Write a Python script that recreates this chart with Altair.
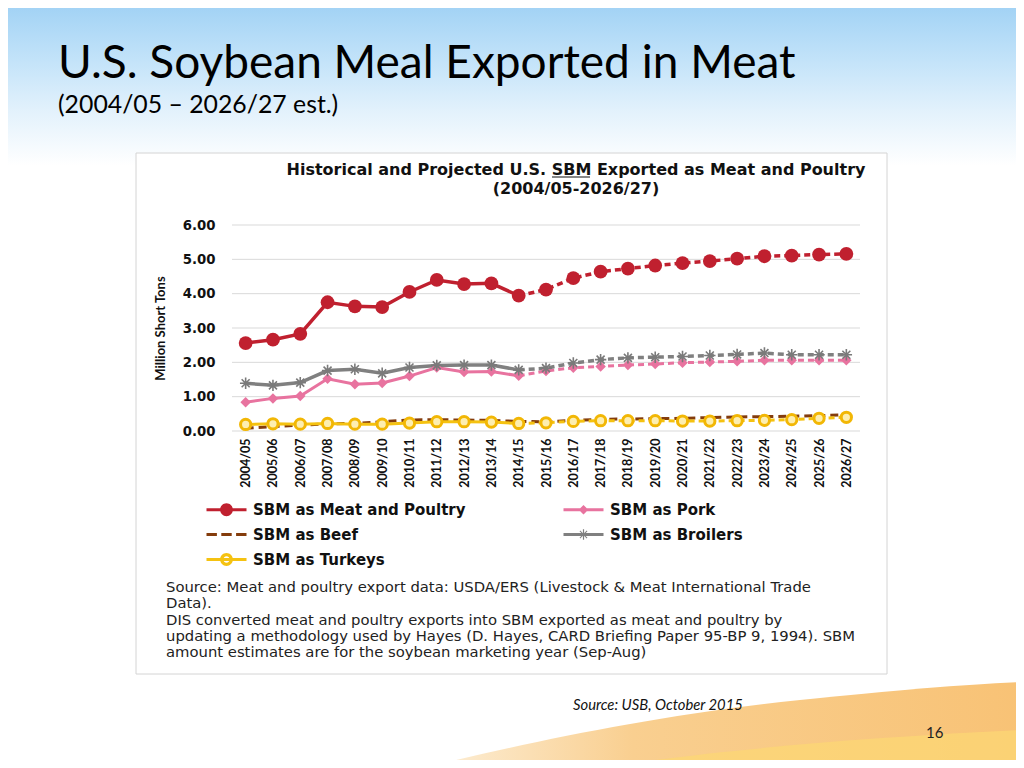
import altair as alt
import pandas as pd

# ---------------- data ----------------
years = ["2004/05", "2005/06", "2006/07", "2007/08", "2008/09", "2009/10",
         "2010/11", "2011/12", "2012/13", "2013/14", "2014/15", "2015/16",
         "2016/17", "2017/18", "2018/19", "2019/20", "2020/21", "2021/22",
         "2022/23", "2023/24", "2024/25", "2025/26", "2026/27"]
last_historical = "2014/15"

meat_poultry = [2.56, 2.66, 2.83, 3.75, 3.63, 3.61, 4.05, 4.40, 4.28, 4.30, 3.94, 4.12,
                4.45, 4.64, 4.73, 4.82, 4.89, 4.95, 5.02, 5.09, 5.11, 5.14, 5.16]
pork = [0.84, 0.95, 1.02, 1.52, 1.36, 1.40, 1.60, 1.85, 1.72, 1.73, 1.61, 1.75,
        1.84, 1.88, 1.92, 1.95, 1.99, 2.01, 2.03, 2.06, 2.06, 2.06, 2.06]
beef = [0.08, 0.13, 0.17, 0.21, 0.22, 0.27, 0.32, 0.33, 0.32, 0.31, 0.28, 0.27,
        0.31, 0.34, 0.35, 0.36, 0.37, 0.39, 0.41, 0.42, 0.43, 0.45, 0.47]
broilers = [1.39, 1.33, 1.41, 1.76, 1.80, 1.68, 1.85, 1.91, 1.92, 1.92, 1.78, 1.83,
            1.98, 2.08, 2.13, 2.15, 2.17, 2.20, 2.23, 2.27, 2.22, 2.22, 2.22]
turkeys = [0.19, 0.21, 0.20, 0.22, 0.20, 0.20, 0.23, 0.27, 0.27, 0.26, 0.22, 0.24,
           0.28, 0.30, 0.30, 0.30, 0.29, 0.29, 0.30, 0.31, 0.33, 0.37, 0.40]

series_names = ["SBM as Meat and Poultry", "SBM as Pork", "SBM as Beef",
                "SBM as Broilers", "SBM as Turkeys"]
series_values = [meat_poultry, pork, beef, broilers, turkeys]
# legend fills column by column: Meat | Pork / Beef | Broilers / Turkeys
legend_order = ["SBM as Meat and Poultry", "SBM as Beef", "SBM as Turkeys",
                "SBM as Pork", "SBM as Broilers"]
y_ticks = [0, 1, 2, 3, 4, 5, 6]

slide_title = "U.S. Soybean Meal Exported in Meat"
slide_subtitle = "(2004/05 \u2013 2026/27 est.)"
chart_title = ["Historical and Projected U.S. SBM Exported as Meat and Poultry",
               "(2004/05-2026/27)"]
source_note = ["Source: Meat and poultry export data: USDA/ERS (Livestock & Meat International Trade",
               "Data).",
               "DIS converted meat and poultry exports into SBM exported as meat and poultry by",
               "updating a methodology used by Hayes (D. Hayes, CARD Briefing Paper 95-BP 9, 1994). SBM",
               "amount estimates are for the soybean marketing year (Sep-Aug)"]
slide_source = "Source: USB, October 2015"
page_number = "16"

# ---------------- styles ----------------
color_of = {"SBM as Meat and Poultry": "#c0202f", "SBM as Pork": "#e8739f",
            "SBM as Beef": "#843c0c", "SBM as Broilers": "#808080",
            "SBM as Turkeys": "#f5c211"}
hist_idx = years.index(last_historical)

rows = []
for name, vals in zip(series_names, series_values):
    for i, (yr, v) in enumerate(zip(years, vals)):
        rows.append({"year": yr, "series": name, "value": v, "idx": i})
df = pd.DataFrame(rows)
one = pd.DataFrame({"k": [0]})

W, H = 628, 206
PAD = {"left": 224, "top": 217, "right": 1008 - 224 - W, "bottom": 752 - 217 - H}

x_enc = alt.X("year:O", sort=years, scale=alt.Scale(domain=years),
              axis=alt.Axis(title=None, labelAngle=270, labelFont="Lato",
                            labelFontWeight="bold", labelFontSize=12.5, labelColor="#111",
                            labelPadding=7, domain=False, ticks=False, grid=False,
                            labelOverlap=False, zindex=1))
y_axis = alt.Axis(title="Million Short Tons", values=y_ticks, format=".2f",
                  labelFont="DejaVu Sans", labelFontWeight="bold", labelFontSize=13.3,
                  labelColor="#111", labelPadding=17, domain=False, ticks=False, grid=False,
                  titleFont="Lato", titleFontWeight="bold", titleFontSize=13,
                  titleColor="#111", titleAngle=270, titleX=-72, titleY=H / 2,
                  titleAlign="center", titleBaseline="middle", zindex=1)
y_scale = alt.Scale(domain=[0, 6])
y_enc = alt.Y("value:Q", scale=y_scale, axis=y_axis)

layers = []

# slide background (sky gradient)
sky = alt.LinearGradient(gradient="linear", x1=0, x2=0, y1=0, y2=1, stops=[
    alt.GradientStop(offset=0, color="#a3d3f5"),
    alt.GradientStop(offset=0.07, color="#c3e3f9"),
    alt.GradientStop(offset=0.14, color="#e4f2fc"),
    alt.GradientStop(offset=0.21, color="#ffffff"),
    alt.GradientStop(offset=1, color="#ffffff")])
layers.append(alt.Chart(one).mark_rect(fill=sky).encode(
    x=alt.value(-PAD["left"]), x2=alt.value(W + PAD["right"]),
    y=alt.value(-PAD["top"]), y2=alt.value(H + PAD["bottom"])))

# bottom swoosh decoration
swoosh_path = "M 190 543 C 300 517, 418 491, 568 475 C 668 465, 738 459, 792 457 L 792 543 Z"
swoosh_fill = alt.LinearGradient(gradient="linear", x1=0, x2=1, y1=0, y2=0, stops=[
    alt.GradientStop(offset=0, color="#fdf0da"),
    alt.GradientStop(offset=0.35, color="#f9cf90"),
    alt.GradientStop(offset=1, color="#f8c275")])
layers.append(alt.Chart(one).mark_point(shape=swoosh_path, size=4, filled=True, fill=swoosh_fill,
                                        opacity=1, strokeWidth=0).encode(
    x=alt.value(0), y=alt.value(0)))
band_path = "M 368 543 C 468 527, 618 513, 792 505 L 792 543 Z"
layers.append(alt.Chart(one).mark_point(shape=band_path, size=4, filled=True, fill="#fcd774",
                                        opacity=0.75, strokeWidth=0).encode(
    x=alt.value(0), y=alt.value(0)))

# chart box
layers.append(alt.Chart(one).mark_rect(fill="white", stroke="#d4d4d4", strokeWidth=1).encode(
    x=alt.value(-96), x2=alt.value(655), y=alt.value(-72), y2=alt.value(449)))

# gridlines
layers.append(alt.Chart(pd.DataFrame({"value": y_ticks})).mark_rule(
    color="#d9d9d9", strokeWidth=1).encode(y=y_enc))

# data lines
base = alt.Chart(df).encode(x=x_enc, y=y_enc)
widths = {"SBM as Meat and Poultry": 3.5, "SBM as Pork": 3, "SBM as Beef": 3,
          "SBM as Broilers": 3.5, "SBM as Turkeys": 3}
for name in series_names:
    col, w = color_of[name], widths[name]
    sel = f"datum.series == '{name}'"
    if name == "SBM as Beef":
        layers.append(base.transform_filter(sel).mark_line(color=col, strokeWidth=w,
                                                           strokeDash=[8, 5]))
        continue
    layers.append(base.transform_filter(f"{sel} && datum.idx <= {hist_idx}").mark_line(
        color=col, strokeWidth=w))
    layers.append(base.transform_filter(f"{sel} && datum.idx >= {hist_idx}").mark_line(
        color=col, strokeWidth=w, strokeDash=[6, 4]))

# markers
asterisk = "M -1 0 L 1 0 M 0 -1 L 0 1 M -0.7 -0.7 L 0.7 0.7 M -0.7 0.7 L 0.7 -0.7"
layers.append(base.transform_filter("datum.series == 'SBM as Meat and Poultry'").mark_point(
    shape="circle", filled=True, color=color_of["SBM as Meat and Poultry"], size=190, opacity=1))
layers.append(base.transform_filter("datum.series == 'SBM as Pork'").mark_point(
    shape="diamond", filled=True, color=color_of["SBM as Pork"], size=110, opacity=1))
layers.append(base.transform_filter("datum.series == 'SBM as Broilers'").mark_point(
    shape=asterisk, filled=False, stroke="#7a7a7a", strokeWidth=1.6, size=130, opacity=1))
layers.append(base.transform_filter("datum.series == 'SBM as Turkeys'").mark_point(
    shape="circle", filled=True, fill="#fdeeb0", stroke="#f2b705", strokeWidth=3,
    size=105, opacity=1))

# legend (built by the library from a colour + shape scale)
bar = "M -1 -0.4 L 9 -0.4 L 9 0.4 L -1 0.4 Z"
shape_of = {
    "SBM as Meat and Poultry": bar + " M 5.6 0 A 1.6 1.6 0 1 1 2.4 0 A 1.6 1.6 0 1 1 5.6 0 Z",
    "SBM as Pork": bar + " M 4 -1.2 L 5.2 0 L 4 1.2 L 2.8 0 Z",
    "SBM as Beef": "M -1 -0.4 L 1.6 -0.4 L 1.6 0.4 L -1 0.4 Z M 2.7 -0.4 L 5.3 -0.4 L 5.3 0.4 "
                   "L 2.7 0.4 Z M 6.4 -0.4 L 9 -0.4 L 9 0.4 L 6.4 0.4 Z",
    "SBM as Broilers": bar + " M 3.85 -1.3 L 4.15 -1.3 L 4.15 1.3 L 3.85 1.3 Z"
                             " M 3.19 -0.99 L 4.99 0.81 L 4.81 0.99 L 3.01 -0.81 Z"
                             " M 4.81 -0.99 L 4.99 -0.81 L 3.19 0.99 L 3.01 0.81 Z",
    "SBM as Turkeys": bar + " M 5.6 0 A 1.6 1.6 0 1 1 2.4 0 A 1.6 1.6 0 1 1 5.6 0 Z"
                            " M 4.8 0 A 0.8 0.8 0 1 0 3.2 0 A 0.8 0.8 0 1 0 4.8 0 Z",
}
legend = alt.Legend(title=None, orient="none", legendX=-29, legendY=277, columns=2,
                    columnPadding=94, rowPadding=9, padding=0, symbolSize=64,
                    symbolStrokeWidth=0, labelOffset=35, labelFont="DejaVu Sans",
                    labelFontWeight="bold", labelFontSize=15, labelColor="#111",
                    labelLimit=400, symbolOpacity=1)
layers.append(alt.Chart(df).transform_filter("datum.idx < 0").mark_point(
    filled=True, opacity=1).encode(
    color=alt.Color("series:N", scale=alt.Scale(domain=legend_order,
                                                range=[color_of[s] for s in legend_order]),
                    legend=legend),
    shape=alt.Shape("series:N", scale=alt.Scale(domain=legend_order,
                                                range=[shape_of[s] for s in legend_order]),
                    legend=legend)))

# texts
layers.append(alt.Chart(one).mark_text(text=chart_title, font="DejaVu Sans", fontWeight="bold",
                                       fontSize=16, color="#111", align="center",
                                       baseline="middle", lineHeight=18.5).encode(
    x=alt.value(344), y=alt.value(-55)))
# underline of "SBM" in the chart title
layers.append(alt.Chart(one).mark_rule(color="#111", strokeWidth=1.2).encode(
    x=alt.value(320), x2=alt.value(358), y=alt.value(-48), y2=alt.value(-48)))
layers.append(alt.Chart(one).mark_text(text=source_note, font="DejaVu Sans", fontSize=14.8,
                                       color="#222", align="left", baseline="top",
                                       lineHeight=16.3).encode(
    x=alt.value(-66), y=alt.value(355)))
layers.append(alt.Chart(one).mark_text(text=slide_title, font="Lato", fontSize=46,
                                       color="#000", align="left", baseline="alphabetic").encode(
    x=alt.value(-174), y=alt.value(-147)))
layers.append(alt.Chart(one).mark_text(text=slide_subtitle, font="Lato", fontSize=24.8,
                                       color="#000", align="left", baseline="alphabetic").encode(
    x=alt.value(-174), y=alt.value(-112)))
layers.append(alt.Chart(one).mark_text(text=slide_source, font="Lato", fontSize=14.8,
                                       fontStyle="italic", color="#111", align="left",
                                       baseline="middle").encode(
    x=alt.value(341), y=alt.value(481)))
layers.append(alt.Chart(one).mark_text(text=page_number, font="Lato", fontSize=15,
                                       color="#222", align="left", baseline="middle").encode(
    x=alt.value(694), y=alt.value(508)))

chart = alt.layer(*layers).properties(
    width=W, height=H, autosize=alt.AutoSizeParams(type="none"), padding=PAD,
    background="white",
).configure_view(strokeWidth=0)

chart.save("out.html", embed_options={"renderer": "svg", "actions": False})
